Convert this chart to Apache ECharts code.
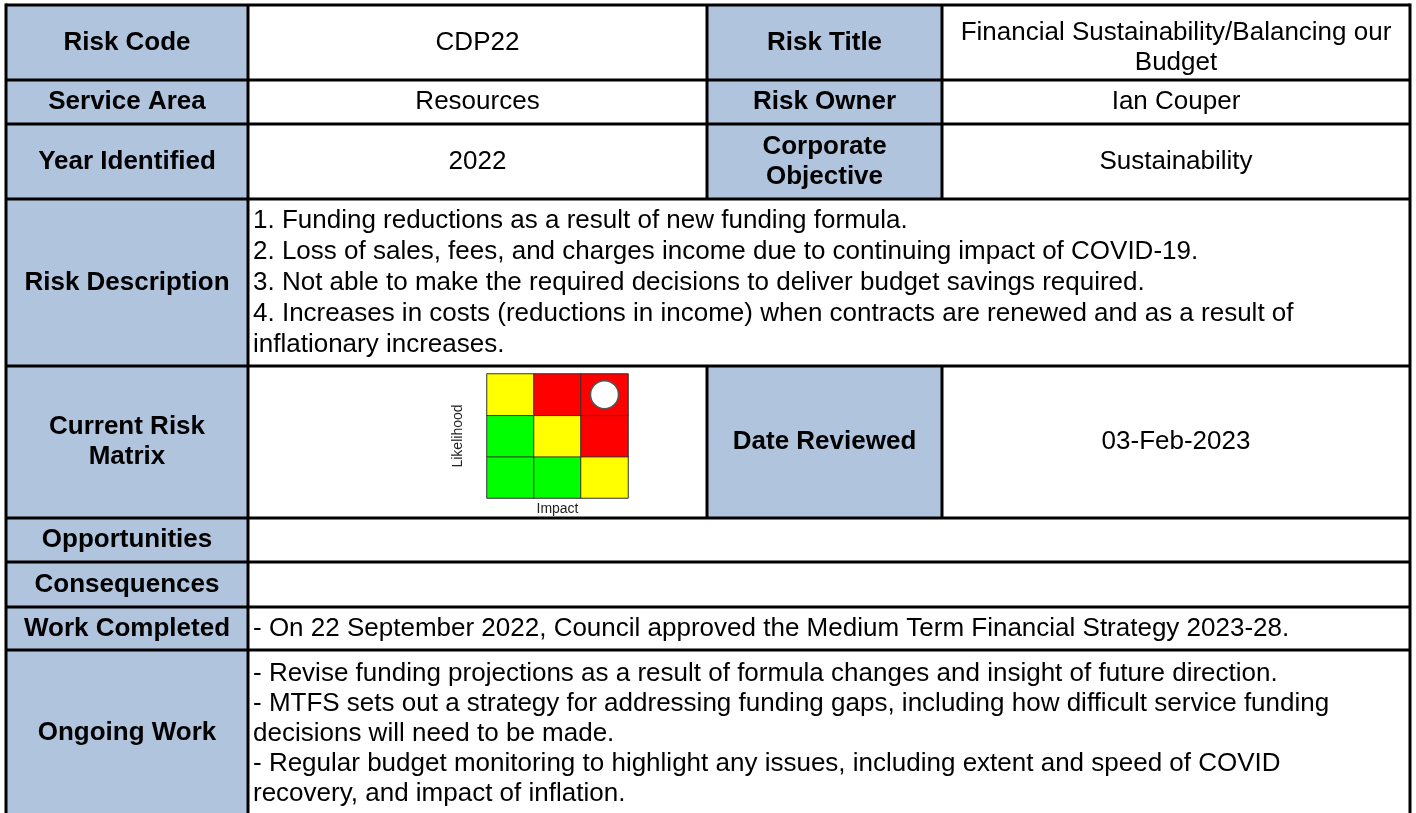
<!DOCTYPE html>
<html>
<head>
<meta charset="utf-8">
<title>Risk CDP22</title>
<script src="https://cdn.jsdelivr.net/npm/echarts@6/dist/echarts.min.js"></script>
<style>
    html, body { margin: 0; padding: 0; background: #fff; }
    #container { width: 1416px; height: 813px; }
</style>
</head>
<body>
<div id="container"></div>
<script>
// left hand labels, one per row
var rowLabels = ['Risk Code', 'Service Area', 'Year Identified', 'Risk Description', 'Current Risk\nMatrix',
    'Opportunities', 'Consequences', 'Work Completed', 'Ongoing Work'];
// short values in the second column (rows 1-3 and the matrix row have a 3rd/4th column)
var rowValues = ['CDP22', 'Resources', '2022'];
var sideLabels = ['Risk Title', 'Risk Owner', 'Corporate\nObjective', null, 'Date Reviewed'];
var sideValues = ['Financial Sustainability/Balancing our\nBudget', 'Ian Couper', 'Sustainability', null, '03-Feb-2023'];

var riskDescription = [
    '1. Funding reductions as a result of new funding formula.',
    '2. Loss of sales, fees, and charges income due to continuing impact of COVID-19.',
    '3. Not able to make the required decisions to deliver budget savings required.',
    '4. Increases in costs (reductions in income) when contracts are renewed and as a result of',
    'inflationary increases.'
];
var opportunities = [];
var consequences = [];
var workCompleted = ['- On 22 September 2022, Council approved the Medium Term Financial Strategy 2023-28.'];
var ongoingWork = [
    '- Revise funding projections as a result of formula changes and insight of future direction.',
    '- MTFS sets out a strategy for addressing funding gaps, including how difficult service funding',
    'decisions will need to be made.',
    '- Regular budget monitoring to highlight any issues, including extent and speed of COVID',
    'recovery, and impact of inflation.'
];

// risk matrix: impact across, likelihood up
var impactCats = ['1', '2', '3'];
var likelihoodCats = ['1', '2', '3'];
// [impact, likelihood, level]  level 0 = green, 1 = yellow, 2 = red
var matrixCells = [
    [0, 0, 0], [1, 0, 0], [2, 0, 1],
    [0, 1, 0], [1, 1, 1], [2, 1, 2],
    [0, 2, 1], [1, 2, 2], [2, 2, 2]
];
var currentRisk = [[2, 2]];

(function () {
    var FONT = '"Liberation Sans", Arial, sans-serif';
    var colX = [6, 248, 707, 942, 1410];
    var rowY = [5, 80, 124, 199, 366, 518, 562, 607, 650, 818];
    var labelBg = '#b0c4de';
    var g = [];

    function cellRect(x0, x1, y0, y1, fill) {
        g.push({ type: 'rect', z: 1, shape: { x: x0, y: y0, width: x1 - x0, height: y1 - y0 }, style: { fill: fill } });
    }
    function centerText(txt, x0, x1, y0, y1, bold, dy) {
        g.push({
            type: 'text', z: 5,
            style: {
                text: txt, x: (x0 + x1) / 2, y: (y0 + y1) / 2 + (dy || 0),
                textAlign: 'center', textVerticalAlign: 'middle',
                font: (bold ? 'bold ' : '') + '26px ' + FONT, fill: '#000', lineHeight: 30
            }
        });
    }
    function leftLines(lines, x0, y0, y1, lh) {
        if (!lines.length) return;
        g.push({
            type: 'text', z: 5,
            style: {
                text: lines.join('\n'), x: x0 + 5, y: (y0 + y1) / 2,
                textAlign: 'left', textVerticalAlign: 'middle',
                font: '26px ' + FONT, fill: '#000', lineHeight: lh
            }
        });
    }
    function line(x0, y0, x1, y1) {
        g.push({ type: 'line', z: 10, shape: { x1: x0, y1: y0, x2: x1, y2: y1 }, style: { stroke: '#000', lineWidth: 3 } });
    }

    var longText = {3: riskDescription, 5: opportunities, 6: consequences, 7: workCompleted, 8: ongoingWork};

    for (var i = 0; i < rowLabels.length; i++) {
        var y0 = rowY[i], y1 = rowY[i + 1];
        cellRect(colX[0], colX[1], y0, y1, labelBg);
        centerText(rowLabels[i], colX[0], colX[1], y0, y1, true, i === 8 ? -1 : 0);
        if (sideLabels[i]) {
            cellRect(colX[2], colX[3], y0, y1, labelBg);
            centerText(sideLabels[i], colX[2], colX[3], y0, y1, true);
            centerText(sideValues[i], colX[3], colX[4], y0, y1, false, i === 0 ? 5 : 0);
            line(colX[2], y0, colX[2], y1);
            line(colX[3], y0, colX[3], y1);
        }
        if (rowValues[i] !== undefined) {
            centerText(rowValues[i], colX[1], colX[2], y0, y1, false);
        }
        if (longText[i]) {
            leftLines(longText[i], colX[1], y0, y1, i === 3 ? 31 : 30);
        }
        line(colX[0], y0, colX[4], y0);
    }
    line(colX[0], rowY[0] - 1.5, colX[0], rowY[rowY.length - 1]);
    line(colX[1], rowY[0], colX[1], rowY[rowY.length - 1]);
    line(colX[4], rowY[0] - 1.5, colX[4], rowY[rowY.length - 1]);

    var axisOff = {
        axisLine: { show: false }, axisTick: { show: false },
        axisLabel: { show: false }, splitLine: { show: false }
    };

    var option = {
        animation: false,
        graphic: g,
        grid: { left: 487, top: 374, width: 141, height: 124 },
        xAxis: Object.assign({
            type: 'category', data: impactCats,
            name: 'Impact', nameLocation: 'middle', nameGap: 4,
            nameTextStyle: { fontFamily: FONT, fontSize: 14, color: '#222', verticalAlign: 'top' }
        }, axisOff),
        yAxis: Object.assign({
            type: 'category', data: likelihoodCats,
            name: 'Likelihood', nameLocation: 'middle', nameGap: 22, nameRotate: 90,
            nameTextStyle: { fontFamily: FONT, fontSize: 14, color: '#222' }
        }, axisOff),
        visualMap: {
            type: 'piecewise', show: false, dimension: 2, seriesIndex: 0,
            pieces: [
                { value: 0, color: '#00ff00' },
                { value: 1, color: '#ffff00' },
                { value: 2, color: '#ff0000' }
            ]
        },
        series: [{
            type: 'heatmap', data: matrixCells,
            itemStyle: { borderColor: '#333', borderWidth: 1 },
            z: 20
        }, {
            type: 'scatter', data: currentRisk,
            symbol: 'circle', symbolSize: 28,
            itemStyle: { color: '#fff', borderColor: '#555', borderWidth: 1.5, opacity: 1 },
            z: 21
        }]
    };

    var chart = echarts.init(document.getElementById('container'), null, { renderer: 'canvas' });
    chart.setOption(option);
})();
</script>
</body>
</html>
